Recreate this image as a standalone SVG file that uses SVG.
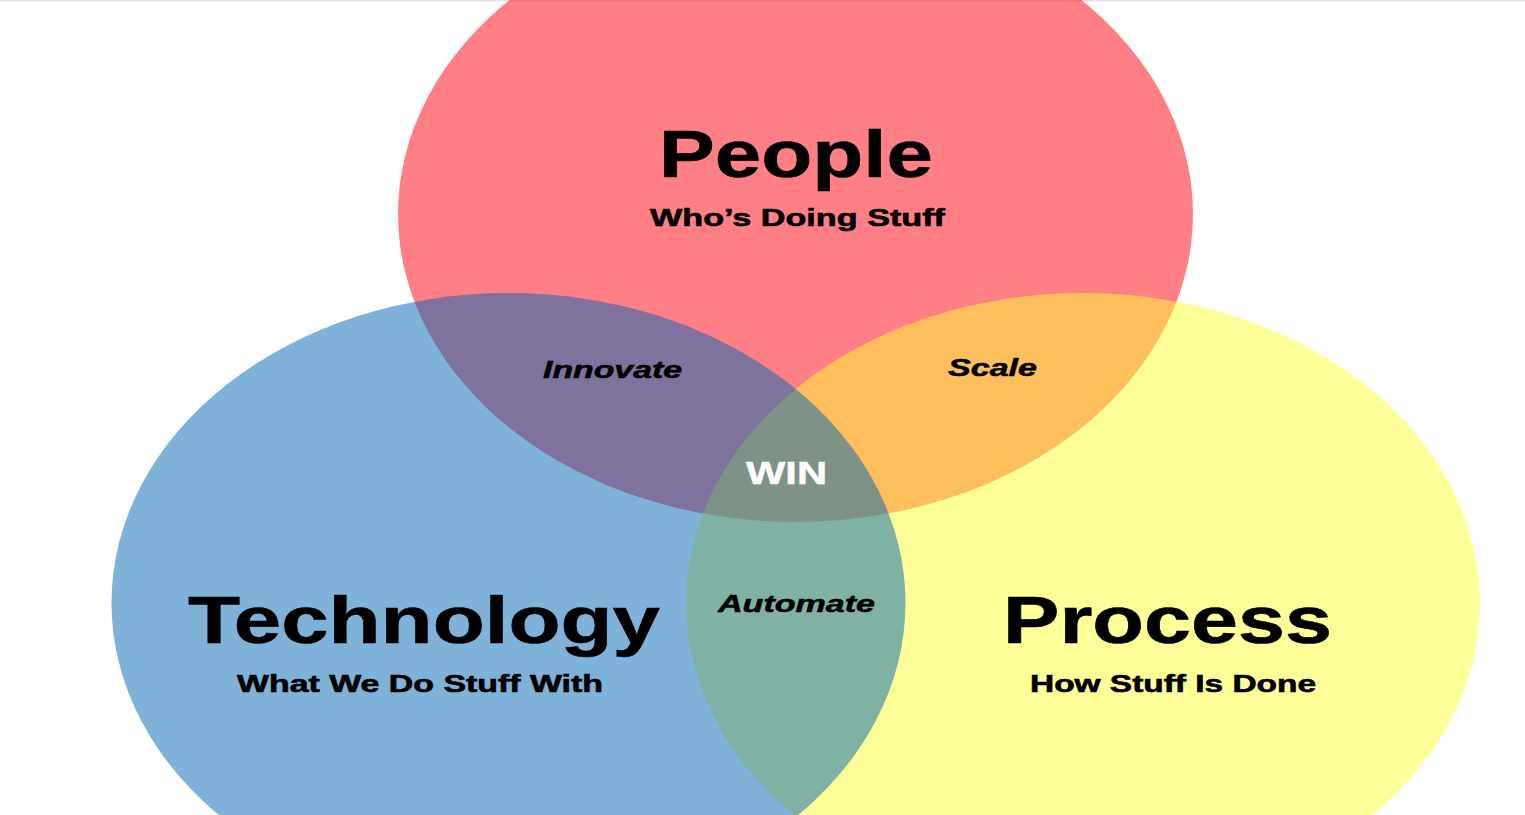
<svg xmlns="http://www.w3.org/2000/svg" width="1525" height="815" viewBox="0 0 1525 815">
  <style>
    .set { fill-opacity: 0.5; stroke: none; }
    .title { font-family: "Liberation Sans", Arial, sans-serif; font-weight: bold; font-size: 67px; fill: #000; stroke: #000; stroke-width: 0.6; }
    .sub { font-family: "Liberation Sans", Arial, sans-serif; font-weight: bold; font-size: 23px; fill: #000; stroke: #000; stroke-width: 0.6; }
    .inter { font-family: "Liberation Sans", Arial, sans-serif; font-weight: bold; font-style: italic; font-size: 23px; fill: #000; stroke: #000; stroke-width: 0.5; }
    .win { font-family: "Liberation Sans", Arial, sans-serif; font-weight: bold; font-size: 32px; fill: #fff; stroke: #fff; stroke-width: 0.5; }
  </style>
  <rect x="0" y="0" width="1525" height="815" fill="#ffffff"/>
  <rect x="0" y="0" width="1525" height="1.5" fill="#e4e4e4"/>

  <g id="people">
    <ellipse class="set" cx="795.5" cy="214" rx="397.5" ry="308" fill="#ff0010"/>
  </g>
  <g id="process">
    <ellipse class="set" cx="1083" cy="603" rx="397" ry="310" fill="#ffff33"/>
  </g>
  <g id="technology">
    <ellipse class="set" cx="508.5" cy="603" rx="397" ry="310" fill="#0066b2"/>
  </g>

  <g id="connectors"></g>

  <g id="people-label">
    <text class="title" x="659" y="177" textLength="274" lengthAdjust="spacingAndGlyphs">People</text>
    <text class="sub" x="650" y="226" textLength="295" lengthAdjust="spacingAndGlyphs">Who’s Doing Stuff</text>
  </g>
  <g id="technology-label">
    <text class="title" x="188" y="643" textLength="472" lengthAdjust="spacingAndGlyphs">Technology</text>
    <text class="sub" x="237" y="692" textLength="366" lengthAdjust="spacingAndGlyphs">What We Do Stuff With</text>
  </g>
  <g id="process-label">
    <text class="title" x="1003" y="643" textLength="329" lengthAdjust="spacingAndGlyphs">Process</text>
    <text class="sub" x="1030" y="692" textLength="286" lengthAdjust="spacingAndGlyphs">How Stuff Is Done</text>
  </g>
  <g id="innovate">
    <text class="inter" x="543" y="378" textLength="139" lengthAdjust="spacingAndGlyphs">Innovate</text>
  </g>
  <g id="scale">
    <text class="inter" x="948" y="376" textLength="89" lengthAdjust="spacingAndGlyphs">Scale</text>
  </g>
  <g id="automate">
    <text class="inter" x="718" y="612" textLength="157" lengthAdjust="spacingAndGlyphs">Automate</text>
  </g>
  <g id="win">
    <text class="win" x="746" y="484" textLength="81" lengthAdjust="spacingAndGlyphs">WIN</text>
  </g>
</svg>
